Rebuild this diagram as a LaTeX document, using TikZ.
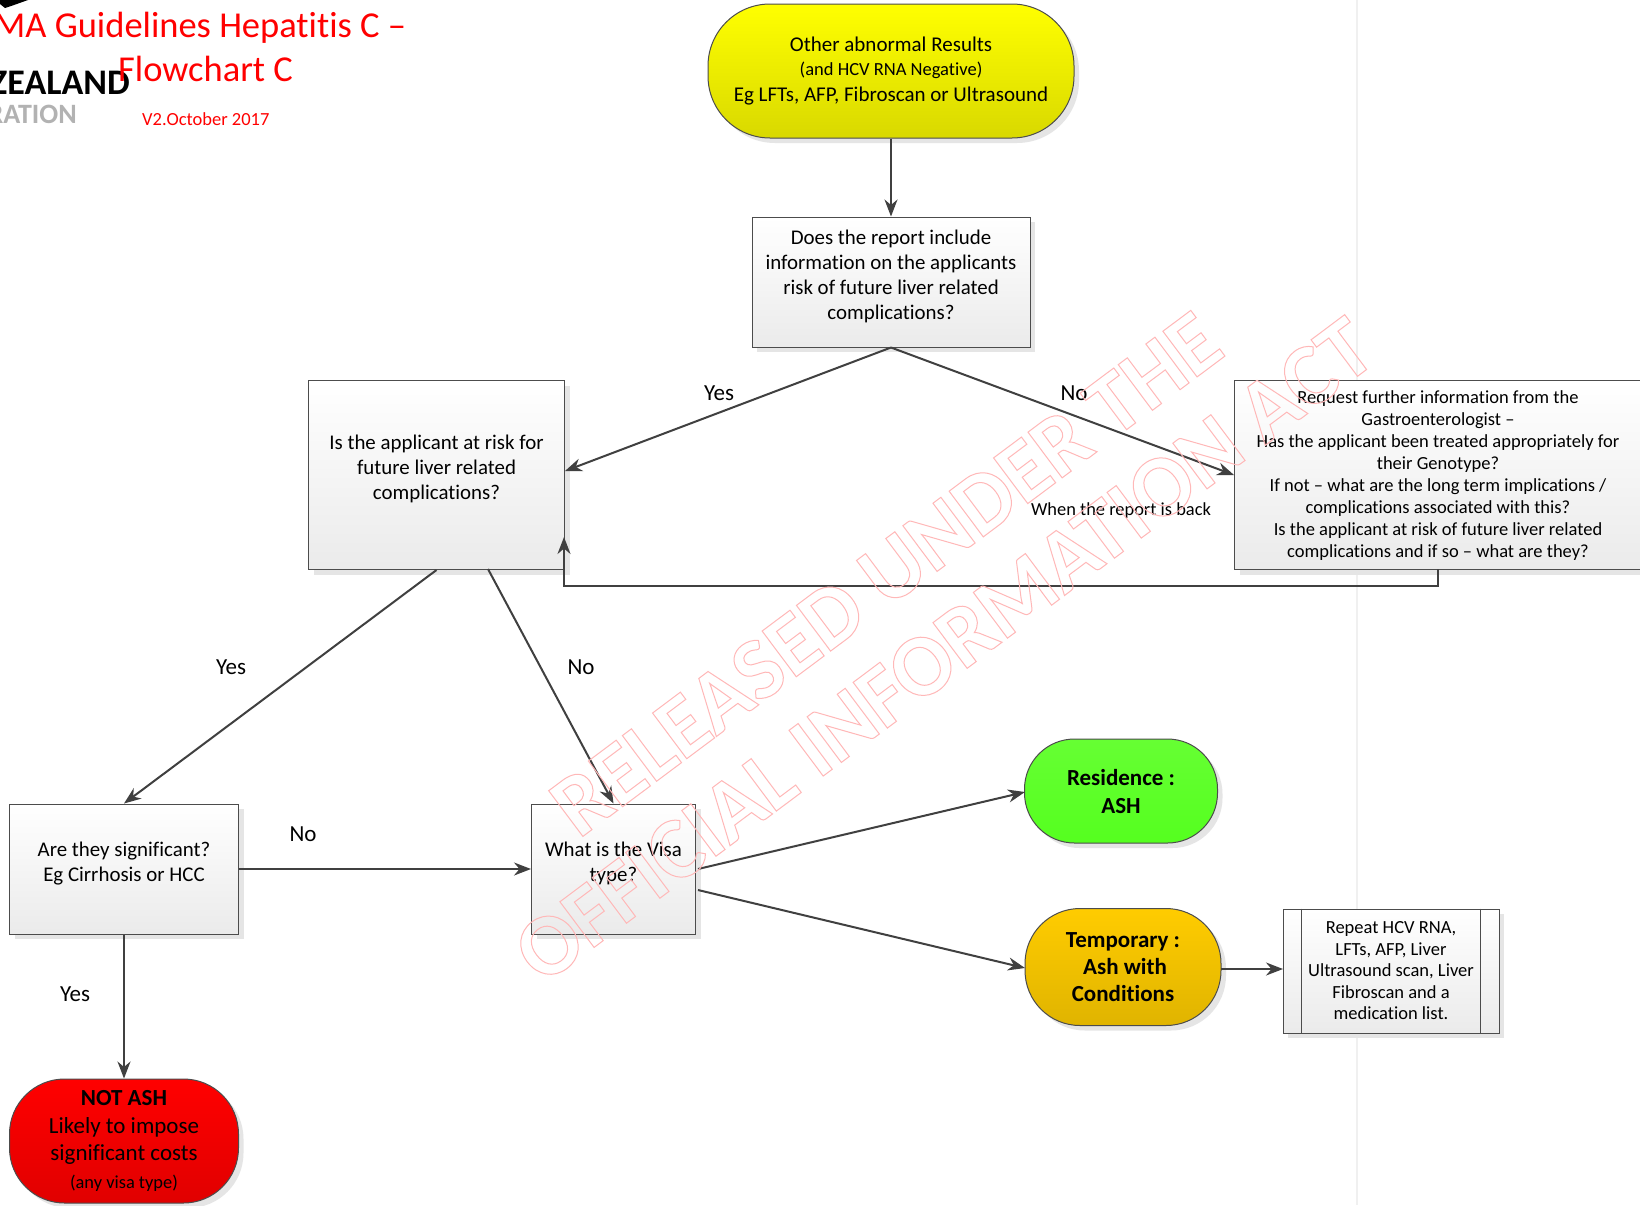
\documentclass[tikz,border=0pt]{standalone}
\usepackage{fontspec}
\setmainfont[Ligatures=NoCommon]{Carlito}
\usetikzlibrary{arrows.meta,shadows}
\newcommand{\fs}[2]{\fontsize{#1}{#2}\selectfont}
\newcommand{\outlinetext}[1]{\special{pdf:code q 1 Tr 1 w 1 0.72 0.72 RG}#1\special{pdf:code Q}}
\definecolor{ambertop}{HTML}{FFCC00}
\definecolor{amberbot}{HTML}{E0B400}
\definecolor{greentop}{HTML}{66FF33}
\definecolor{greenbot}{HTML}{55FF1F}
\tikzset{
  x=1pt,y=-1pt,
  base/.style={draw=black!70,line width=1pt,inner sep=0pt,align=center,text=black,
    drop shadow={shadow xshift=5pt,shadow yshift=-5pt,fill=black!10,opacity=1}},
  boxn/.style={base,rectangle,top color=white,bottom color=black!8},
  term/.style={base,rectangle,rounded corners=#1},
  conn/.style={draw=black!75,line width=2pt,-{Stealth[length=17pt,width=13pt]}},
  lab/.style={inner sep=0pt,font=\fs{23}{27},text=black},
  red title/.style={inner sep=0pt,text=red,anchor=base west},
  wm/.style={inner sep=0pt,rotate=36.8,font=\bfseries\fs{88}{88}}
}
\begin{document}
\begin{tikzpicture}
\useasboundingbox (0,0) rectangle (1640,1205);
\clip (0,0) rectangle (1640,1205);
\fill[white] (0,0) rectangle (1640,1205);
\draw[black!6,line width=1.5pt] (1357,0) -- (1357,1205);
% logo fragments
\fill[black] (0,0) -- (28,0) -- (14,5) -- (5,8) -- (0,4) -- cycle;
\node[inner sep=0pt,anchor=base east,font=\fs{36}{36}\bfseries] (lz) at (130,94) {ZEALAND};
\node[inner sep=0pt,anchor=base east,font=\fs{28}{28}\bfseries,text=black!30] (lr) at (77,123) {RATION};
% title
\node[red title,font=\fs{36.5}{36.5}] (t1) at (-6,37) {MA Guidelines Hepatitis C –};
\node[red title,font=\fs{36.5}{36.5}] (t2) at (118,81) {Flowchart C};
\node[red title,font=\fs{18.5}{18.5}] (t3) at (142,125) {V2.October 2017};
% nodes
\node[term=62pt,top color=yellow,bottom color=yellow!85!black,minimum width=366pt,minimum height=134pt,font=\fs{21}{25.5}] (top) at (891,71)
 {Other abnormal Results\\[-1pt]{\fs{18.5}{22}(and HCV RNA Negative)}\\Eg LFTs, AFP, Fibroscan or Ultrasound};
\node[boxn,minimum width=278pt,minimum height=130pt,font=\fs{20.9}{25}] (report) at (891,282)
 {\\[-22pt]Does the report include\\information on the applicants\\risk of future liver related\\complications?};
\node[boxn,minimum width=256pt,minimum height=189pt,font=\fs{20.9}{25}] (risk) at (436.5,475)
 {\\[-22pt]Is the applicant at risk for\\future liver related\\complications?};
\node[boxn,minimum width=411pt,minimum height=189pt,anchor=west,font=\fs{18.5}{22}] (req) at (1234,475)
 {\begin{tabular}{@{}c@{}}\\[-20pt]Request further information from the\\Gastroenterologist –\\Has the applicant been treated appropriately for\\their Genotype?\\If not – what are the long term implications /\\complications associated with this?\\Is the applicant at risk of future liver related\\complications and if so – what are they?\end{tabular}\hspace*{4pt}};
\node[boxn,minimum width=229pt,minimum height=130pt,font=\fs{20.9}{25}] (sig) at (124,869)
 {\\[-22pt]Are they significant?\\Eg Cirrhosis or HCC};
\node[boxn,minimum width=164pt,minimum height=130pt,font=\fs{20.9}{25}] (visa) at (613.5,869)
 {\\[-22pt]What is the Visa\\type?};
\node[term=50pt,top color=greentop,bottom color=greenbot,minimum width=193pt,minimum height=104pt,font=\fs{23}{28}\bfseries] (res) at (1121,791)
 {Residence :\\ASH};
\node[term=55pt,top color=ambertop,bottom color=amberbot,minimum width=196pt,minimum height=117pt,font=\fs{23}{27}\bfseries] (temp) at (1123,967)
 {Temporary :\\\hspace*{4pt}Ash with\\Conditions};
\node[boxn,minimum width=216pt,minimum height=124pt,font=\fs{18.5}{21.5}] (rep) at (1391,971)
 {Repeat HCV RNA,\\LFTs, AFP, Liver\\Ultrasound scan, Liver\\Fibroscan and a\\medication list.};
\draw[black!70,line width=1pt] (rep.north west) ++(19,0) coordinate (ra) -- (ra |- rep.south);
\draw[black!70,line width=1pt] (rep.north east) ++(-19,0) coordinate (rb) -- (rb |- rep.south);
\node[term=55pt,top color=red,bottom color=red!88!black,minimum width=229pt,minimum height=124pt,font=\fs{23}{27.5}] (no) at (124,1141)
 {\textbf{NOT ASH}\\Likely to impose\\significant costs\\{\fs{18.4}{24}(any visa type)}};
% connector ends
\coordinate (riskE) at (565,471);
\coordinate (reqW) at (1234,475);
\coordinate (riskS2) at (488,569);
\coordinate (visaE1) at (698,869);
\coordinate (visaE2) at (698,890);
\coordinate (resW) at (1025,792);
\coordinate (tempW) at (1025,968);
\coordinate (repW) at (1283,969);
\coordinate (tempE) at (1221,969);
\coordinate (riskBack) at (564,537);
\coordinate (reqS) at (1438,569);
% connectors
\draw[conn] (top.south) -- (report.north);
\draw[conn] (report.south) -- (riskE);
\draw[conn] (report.south) -- (reqW);
\draw[conn] (risk.south) -- (sig.north);
\draw[conn] (riskS2) -- (visa.north);
\draw[conn] (reqS) -- (1438,585.5) -- (564,585.5) -- (riskBack);
\draw[conn] (sig.east) -- (visa.west);
\draw[conn] (sig.south) -- (no.north);
\draw[conn] (visaE1) -- (resW);
\draw[conn] (visaE2) -- (tempW);
\draw[conn] (tempE) -- (repW);
% labels
\node[lab] (l1) at (719,393) {Yes};
\node[lab] (l2) at (1074,393) {No};
\node[lab,font=\fs{18.4}{22}] (l3) at (1121,511) {When the report is back};
\node[lab] (l4) at (231,667) {Yes};
\node[lab] (l5) at (581,667) {No};
\node[lab] (l6) at (303,834) {No};
\node[lab] (l7) at (75,994) {Yes};
% watermark
\node[wm] (w1) at (886,574) {\outlinetext{RELEASED UNDER THE}};
\node[wm] (w2) at (944,650) {\outlinetext{OFFICIAL INFORMATION ACT}};
\end{tikzpicture}
\end{document}
